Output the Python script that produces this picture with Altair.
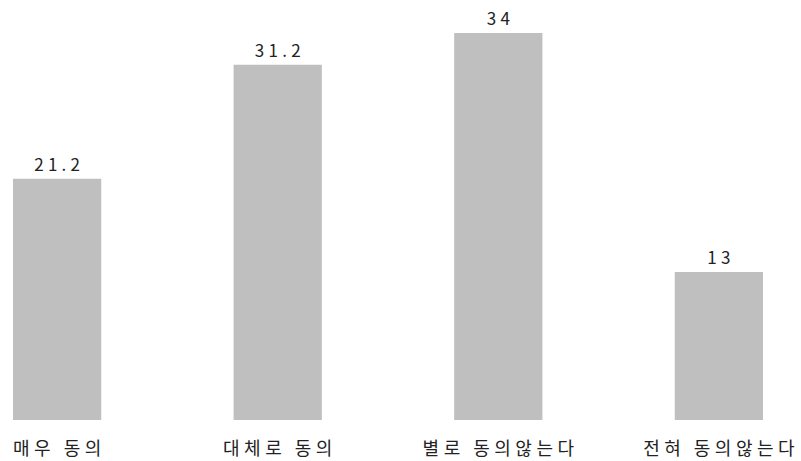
import altair as alt
import pandas as pd

categories = ["매우 동의", "대체로 동의", "별로 동의않는다", "전혀 동의않는다"]
values = [21.2, 31.2, 34, 13]
value_labels = ["21.2", "31.2", "34", "13"]

df = pd.DataFrame({"cat": categories, "val": values, "lab": value_labels})

FONT = "Noto Sans CJK KR"
spacer_cat = "replace(%s, /(.)(?=.)/g, '$1\u2005')"
spacer_num = "replace(%s, /(.)(?=.)/g, '$1\u2005')"

x = alt.X("cat:N", sort=categories, title=None,
          scale=alt.Scale(paddingInner=0.6, paddingOuter=0.059),
          axis=alt.Axis(labelAngle=0, domain=False, ticks=False, labelFont=FONT,
                        labelFontSize=18, labelColor="#222222", labelPadding=20,
                        labelExpr=spacer_cat % "datum.label"))
y = alt.Y("val:Q", scale=alt.Scale(domain=[0, 34], nice=False), axis=None)

bars = alt.Chart(df).mark_bar(color="#bfbfbf").encode(x=x, y=y)
text = alt.Chart(df).transform_calculate(sl=spacer_num % "datum.lab").mark_text(
    dy=-8, baseline="alphabetic", font=FONT, fontSize=17, color="#222222"
).encode(x=x, y=y, text="sl:N")

chart = (bars + text).properties(
    width=776, height=387,
    autosize=alt.AutoSizeParams(type="none"),
    padding={"left": 0, "top": 33, "right": 25, "bottom": 41},
).configure_view(stroke=None)

chart.save("out.html", embed_options={"renderer": "svg", "actions": False})
